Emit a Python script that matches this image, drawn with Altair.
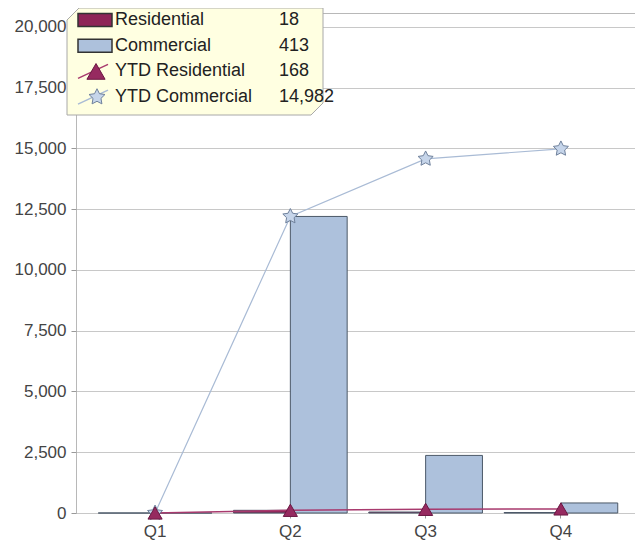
import math
import altair as alt
import pandas as pd

# ---------------- data ----------------
quarters = ["Q1", "Q2", "Q3", "Q4"]
residential = [0, 110, 40, 18]
commercial = [0, 12200, 2369, 413]
ytd_residential = [0, 110, 150, 168]
ytd_commercial = [0, 12200, 14569, 14982]
y_ticks = [0, 2500, 5000, 7500, 10000, 12500, 15000, 17500, 20000]
series_names = ["Residential", "Commercial", "YTD Residential", "YTD Commercial"]
all_series = [residential, commercial, ytd_residential, ytd_commercial]

rows = []
for name, vals in zip(series_names, all_series):
    for q, v in zip(quarters, vals):
        rows.append({"quarter": q, "series": name, "value": v})
df = pd.DataFrame(rows)

legend_df = pd.DataFrame({
    "series": series_names,
    "row": list(range(len(series_names))),
    "last": [f"{vals[-1]:,}" for vals in all_series],
})

# ---------------- styles ----------------
FONT = "Liberation Sans"
RES_FILL = "#8e2457"
COM_FILL = "#adc1dc"
RES_LINE = "#a83a6e"
COM_LINE = "#a9bbd5"
color_scale = alt.Scale(domain=series_names, range=[RES_FILL, COM_FILL, RES_LINE, COM_LINE])

pts = []
for k in range(10):
    r = 1.0 if k % 2 == 0 else 0.5
    a = math.radians(-90 + 36 * k)
    pts.append(f"{r * math.cos(a):.3f},{r * math.sin(a):.3f}")
STAR = "M" + " L".join(pts) + " Z"
BOX = "M-1,-0.324 L-0.906,-0.418 L1,-0.418 L1,0.324 L0.906,0.418 L-1,0.418 Z"

x_enc = alt.X(
    "quarter:N", sort=quarters,
    scale=alt.Scale(paddingInner=0.16, paddingOuter=0.146, align=0.563),
    axis=alt.Axis(title=None, labelAngle=0, domain=False, ticks=True, tickSize=5,
                  tickColor="#999999", labelFontSize=17, labelColor="#444444",
                  labelPadding=5, grid=False),
)
y_enc = alt.Y(
    "value:Q",
    scale=alt.Scale(domain=[0, 20570], nice=False, zero=True),
    axis=alt.Axis(title=None, values=y_ticks, labelExpr="format(datum.value, ',')",
                  grid=True, gridColor="#c8c8c8",
                  domain=False, tickSize=5, tickColor="#999999", labelFontSize=17,
                  labelColor="#444444", labelPadding=5),
)

base = alt.Chart(df)

bars = base.transform_filter(
    alt.FieldOneOfPredicate(field="series", oneOf=["Residential", "Commercial"])
).mark_bar(stroke="#4b5868", strokeWidth=1).encode(
    x=x_enc,
    xOffset=alt.XOffset("series:N", sort=["Residential", "Commercial"],
                        scale=alt.Scale(paddingInner=0, paddingOuter=0)),
    y=y_enc,
    color=alt.Color("series:N", scale=color_scale, legend=None),
)

line_com = base.transform_filter(alt.datum.series == "YTD Commercial").mark_line(
    strokeWidth=1.2).encode(x=x_enc, y=y_enc,
                            color=alt.Color("series:N", scale=color_scale, legend=None))
line_res = base.transform_filter(alt.datum.series == "YTD Residential").mark_line(
    strokeWidth=1.5).encode(x=x_enc, y=y_enc,
                            color=alt.Color("series:N", scale=color_scale, legend=None))

pts_com = base.transform_filter(alt.datum.series == "YTD Commercial").mark_point(
    shape=STAR, size=250, filled=True, fill="#c6d5ea", stroke="#6f819c",
    strokeWidth=1, opacity=1).encode(x=x_enc, y=y_enc)
pts_res = base.transform_filter(alt.datum.series == "YTD Residential").mark_point(
    shape="triangle-up", size=200, filled=True, fill="#962a60", stroke="#6b1843",
    strokeWidth=1, opacity=1).encode(x=x_enc, y=y_enc)

# ---------------- legend box ----------------
leg = alt.Chart(legend_df).transform_calculate(
    py="7 + 25.7 * datum.row",
    ya="7 + 25.7 * datum.row - 6.5",
    yb="7 + 25.7 * datum.row + 6.5",
    yl1="7 + 25.7 * datum.row + 7",
    yl2="7 + 25.7 * datum.row - 7",
)

leg_box = leg.transform_filter(alt.datum.row == 0).mark_point(
    shape=BOX, size=256 * 256, filled=True, fill="#ffffe1", stroke="#a8a8a8",
    strokeWidth=1, opacity=1).encode(x=alt.value(119), y=alt.value(48.5))

leg_rect = leg.transform_filter(alt.datum.row < 2).mark_rect(
    stroke="#333333", strokeWidth=1.5).encode(
    x=alt.value(2), x2=alt.value(36),
    y=alt.Y("ya:Q", scale=None, axis=None), y2="yb:Q",
    color=alt.Color("series:N", scale=color_scale, legend=None),
)
leg_rule = leg.transform_filter(alt.datum.row >= 2).mark_rule(strokeWidth=1.5).encode(
    x=alt.value(2), x2=alt.value(32),
    y=alt.Y("yl1:Q", scale=None, axis=None), y2="yl2:Q",
    color=alt.Color("series:N", scale=color_scale, legend=None),
)
leg_tri = leg.transform_filter(alt.datum.row == 2).mark_point(
    shape="triangle-up", size=330, filled=True, fill="#962a60", stroke="#6b1843",
    strokeWidth=1, opacity=1).encode(x=alt.value(20), y=alt.Y("py:Q", scale=None, axis=None))
leg_star = leg.transform_filter(alt.datum.row == 3).mark_point(
    shape=STAR, size=280, filled=True, fill="#c6d5ea", stroke="#6f819c",
    strokeWidth=1, opacity=1).encode(x=alt.value(21), y=alt.Y("py:Q", scale=None, axis=None))

leg_name = leg.mark_text(align="left", baseline="middle", fontSize=18, color="#222222",
                         font=FONT).encode(
    x=alt.value(39), y=alt.Y("py:Q", scale=None, axis=None), text="series:N")
leg_val = leg.mark_text(align="left", baseline="middle", fontSize=18, color="#222222",
                        font=FONT).encode(
    x=alt.value(203), y=alt.Y("py:Q", scale=None, axis=None), text="last:N")

chart = alt.layer(
    bars, line_com, line_res, pts_com, pts_res,
    leg_box, leg_rect, leg_rule, leg_tri, leg_star, leg_name, leg_val,
).properties(
    width=559, height=500,
    autosize=alt.AutoSizeParams(type="none"),
    padding={"left": 68, "top": 5, "right": 0, "bottom": 28},
).configure(font=FONT).configure_view(stroke="#b8b8b8", strokeWidth=1)

chart.save("out.html", embed_options={"renderer": "svg", "actions": False})
